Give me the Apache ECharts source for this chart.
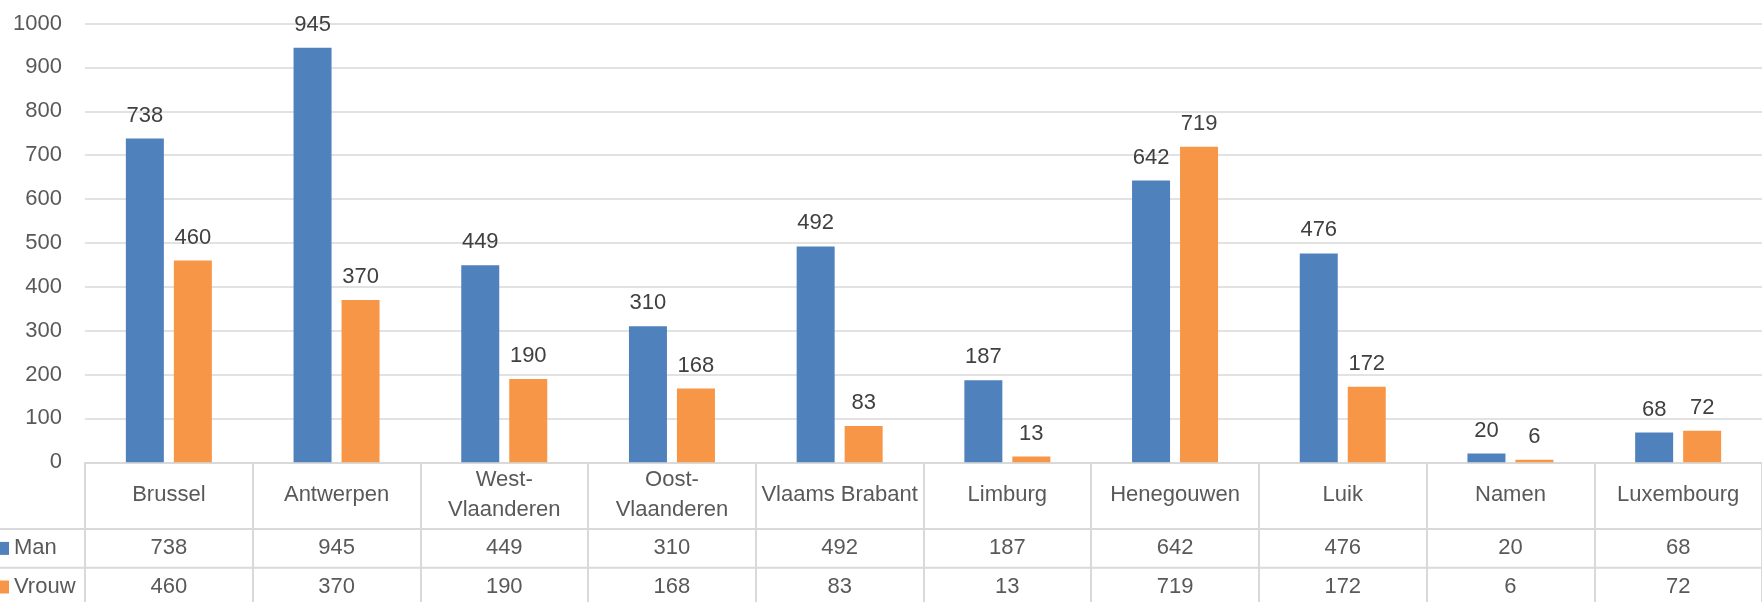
<!DOCTYPE html>
<html><head><meta charset="utf-8">
<script src="https://cdn.jsdelivr.net/npm/echarts@6/dist/echarts.min.js"></script>
<style>html,body{margin:0;padding:0;background:#fff}#c{width:1762px;height:602px}</style>
</head><body><div id="c"></div>
<script>
// ---- data ----
const categories = ['Brussel','Antwerpen','West-\nVlaanderen','Oost-\nVlaanderen','Vlaams Brabant','Limburg','Henegouwen','Luik','Namen','Luxembourg'];
const manValues = [738,945,449,310,492,187,642,476,20,68];
const vrouwValues = [460,370,190,168,83,13,719,172,6,72];
const seriesNames = ['Man','Vrouw'];
const yMin = 0, yMax = 1000, yInterval = 100;

// ---- style ----
const FONT = 'Liberation Sans';
const TXT = '#595959';
const LINE = '#d9d9d9';
const FS = 22;
const gridBox = {left:85, top:23.5, width:1692, height:438.8};

const chart = echarts.init(document.getElementById('c'), null, {renderer:'canvas'});

function hiddenY(i){ return {type:'value', gridIndex:i, show:false, min:yMin, max:yMax}; }
function rowAxis(i, values, margin){
  return {
    type:'category', gridIndex:i, data:categories, position:'bottom',
    axisLine:{show:false}, axisTick:{show:false}, splitLine:{show:false},
    axisLabel:{interval:0, margin:margin, verticalAlign:'middle', color:TXT, fontSize:FS, fontFamily:FONT,
      formatter:(v, idx) => String(values[idx])}
  };
}
function legendFor(name, top){
  return {
    data:[name], orient:'horizontal', left:-4, top:top, padding:0,
    icon:'rect', itemWidth:13, itemHeight:13,
    textStyle:{fontSize:FS, color:TXT, fontFamily:FONT, lineHeight:24}
  };
}

chart.setOption({
  animation:false,
  backgroundColor:'#fff',
  textStyle:{fontFamily:FONT},
  grid:[
    Object.assign({}, gridBox),
    Object.assign({}, gridBox),
    Object.assign({}, gridBox)
  ],
  legend:[ legendFor(seriesNames[0], 536.4), legendFor(seriesNames[1], 575) ],
  xAxis:[
    {
      type:'category', gridIndex:0, data:categories,
      axisLine:{show:true, lineStyle:{color:LINE, width:2}},
      axisTick:{show:true, interval:0, length:150, lineStyle:{color:LINE, width:2}},
      axisLabel:{interval:0, margin:33, verticalAlign:'middle', color:TXT, fontSize:FS, fontFamily:FONT, lineHeight:30}
    },
    rowAxis(1, manValues, 86),
    rowAxis(2, vrouwValues, 125)
  ],
  yAxis:[
    {
      type:'value', gridIndex:0, min:yMin, max:yMax, interval:yInterval,
      axisLine:{show:false}, axisTick:{show:false},
      axisLabel:{margin:23, color:TXT, fontSize:FS, fontFamily:FONT, formatter:(v) => String(v)},
      splitLine:{lineStyle:{color:LINE, width:1.5}}
    },
    hiddenY(1), hiddenY(2)
  ],
  graphic:[
    {type:'line', z:10, shape:{x1:0, y1:529, x2:1762, y2:529}, style:{stroke:LINE, lineWidth:2}},
    {type:'line', z:10, shape:{x1:0, y1:567.7, x2:1762, y2:567.7}, style:{stroke:LINE, lineWidth:2}}
  ],
  series:[
    {
      name:seriesNames[0], type:'bar', xAxisIndex:0, yAxisIndex:0, data:manValues,
      barWidth:38, barGap:'26.3%',
      itemStyle:{color:'#4F81BD'},
      label:{show:true, position:'top', distance:12, color:'#404040', fontSize:FS, fontFamily:FONT}
    },
    {
      name:seriesNames[1], type:'bar', xAxisIndex:0, yAxisIndex:0, data:vrouwValues,
      barWidth:38, barGap:'26.3%',
      itemStyle:{color:'#F79646'},
      label:{show:true, position:'top', distance:12, color:'#404040', fontSize:FS, fontFamily:FONT}
    }
  ]
});
</script></body></html>
